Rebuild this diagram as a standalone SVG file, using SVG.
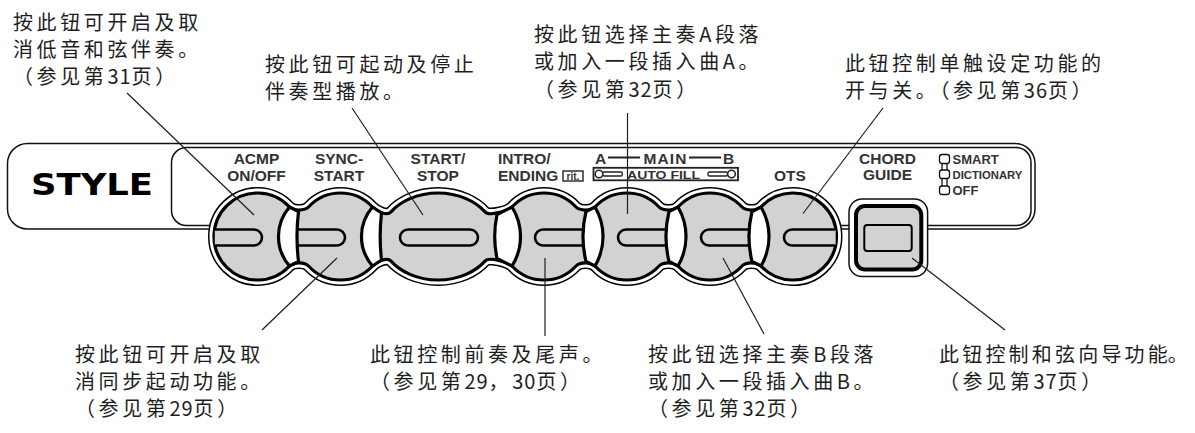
<svg xmlns="http://www.w3.org/2000/svg" xmlns:xlink="http://www.w3.org/1999/xlink" width="1195" height="433" viewBox="0 0 1195 433">
<style>
.cn{font-family:"Noto Sans CJK SC","Noto Sans CJK JP",sans-serif;font-size:20px;letter-spacing:3.6px;fill:#1e1e1e}
.d{letter-spacing:1px}
.bl{font-family:"Liberation Sans",Arial,sans-serif;font-weight:bold;font-size:15.5px;fill:#333;text-anchor:middle}
.lg{font-family:"Liberation Sans",Arial,sans-serif;font-weight:bold;fill:#333}
.lead{stroke:#1e1e1e;stroke-width:1.2;fill:none}
.panel{fill:none;stroke:#111;stroke-width:1.5}
.cres{fill:#fff;stroke:#000;stroke-width:3.2;stroke-linejoin:round}
.slot{fill:#d1d2d4;stroke:#000;stroke-width:2.6;stroke-linejoin:round}
.thin{fill:none;stroke:#111;stroke-width:1.3}
</style>
<defs>
<path id="chainPath" d="M 289.26 206.28 C 293.36 210.66 304.64 210.66 308.74 206.28 A 43.5 43.5 0 0 1 372.26 206.28 C 376.36 210.66 387 215.9 391 211.4 A 57 43.5 0 0 1 485 211.4 C 489 215.9 508.14 210.66 512.24 206.28 A 43.5 43.5 0 0 1 575.76 206.28 C 579.86 210.66 591.14 210.66 595.24 206.28 A 43.5 43.5 0 0 1 658.76 206.28 C 662.86 210.66 674.14 210.66 678.24 206.28 A 43.5 43.5 0 0 1 741.76 206.28 C 745.86 210.66 757.14 210.66 761.24 206.28 A 43.5 43.5 0 1 1 761.24 265.72 C 757.14 261.34 745.86 261.34 741.76 265.72 A 43.5 43.5 0 0 1 678.24 265.72 C 674.14 261.34 662.86 261.34 658.76 265.72 A 43.5 43.5 0 0 1 595.24 265.72 C 591.14 261.34 579.86 261.34 575.76 265.72 A 43.5 43.5 0 0 1 512.24 265.72 C 508.14 261.34 489 256.1 485 260.6 A 57 43.5 0 0 1 391 260.6 C 387 256.1 376.36 261.34 372.26 265.72 A 43.5 43.5 0 0 1 308.74 265.72 C 304.64 261.34 293.36 261.34 289.26 265.72 A 43.5 43.5 0 1 1 289.26 206.28 Z"/>
</defs>
<rect width="1195" height="433" fill="#fff"/>

<g id="panel">
<rect class="panel" x="7.5" y="143.5" width="1027.5" height="85.5" rx="20"/>
<rect class="panel" x="171.5" y="147.5" width="859.5" height="78" rx="15"/>
<text x="31" y="195" font-family="DejaVu Sans,sans-serif" font-weight="bold" font-size="29.5" textLength="122" lengthAdjust="spacingAndGlyphs" fill="#000">STYLE</text>
</g>

<g id="button-chain" transform="translate(0,0.5)">
<use xlink:href="#chainPath" href="#chainPath" fill="none" stroke="#000" stroke-width="12" stroke-linejoin="round"/>
<use xlink:href="#chainPath" href="#chainPath" fill="none" stroke="#fff" stroke-width="9" stroke-linejoin="round"/>
<use xlink:href="#chainPath" href="#chainPath" fill="#d1d2d4" stroke="#000" stroke-width="3.2" stroke-linejoin="round"/>
<g id="slots">
<path class="slot" d="M 214.8 229 H 254 A 8 8 0 0 1 254 245 H 214.8"/>
<path class="slot" d="M 297.8 229 H 337 A 8 8 0 0 1 337 245 H 297.8"/>
<rect class="slot" x="400" y="229" width="78" height="16" rx="8"/>
<path class="slot" d="M 586.7 229 H 543 A 8 8 0 0 0 543 245 H 586.7"/>
<path class="slot" d="M 669.7 229 H 626 A 8 8 0 0 0 626 245 H 669.7"/>
<path class="slot" d="M 752.7 229 H 709 A 8 8 0 0 0 709 245 H 752.7"/>
<path class="slot" d="M 835.7 229 H 792 A 8 8 0 0 0 792 245 H 835.7"/>
</g>
<g id="gaps">
<path class="cres" d="M 289.5 206.5 A 45 45 0 0 0 289.5 265.5 L 298.5 261 A 209 209 0 0 1 298.5 211 Z"/>
<path class="cres" d="M 372.5 206.5 A 45 45 0 0 0 372.5 265.5 L 381.5 259.5 A 209 209 0 0 1 381.5 212.5 Z"/>
<path class="cres" d="M 512 206.5 A 55.4 55.4 0 0 1 512 265.5 L 497 258 A 107 107 0 0 1 497 214 Z"/>
<path class="cres" d="M 595 206.5 A 58.4 58.4 0 0 1 595 265.5 L 586 261 A 105.7 105.7 0 0 1 586 211 Z"/>
<path class="cres" d="M 678 206.5 A 58.4 58.4 0 0 1 678 265.5 L 669 261 A 105.7 105.7 0 0 1 669 211 Z"/>
<path class="cres" d="M 761 206.5 A 58.4 58.4 0 0 1 761 265.5 L 752 261 A 105.7 105.7 0 0 1 752 211 Z"/>
</g>
</g>

<g id="btn-acmp"><text class="bl" x="256.5" y="164">ACMP</text><text class="bl" x="256.5" y="181">ON/OFF</text></g>
<g id="btn-sync"><text class="bl" x="339" y="164">SYNC-</text><text class="bl" x="339" y="181">START</text></g>
<g id="btn-start"><text class="bl" x="438" y="164">START/</text><text class="bl" x="438" y="181">STOP</text></g>
<g id="btn-intro">
<text class="lg" x="498" y="164" font-size="15.5">INTRO/</text>
<text class="lg" x="498" y="180.5" font-size="15.5">ENDING</text>
<rect x="563" y="171" width="20" height="10" fill="#fff" stroke="#222" stroke-width="1.4"/>
<text class="lg" x="573" y="179.6" font-size="10" text-anchor="middle">rit.</text>
</g>
<g id="btn-main">
<text class="lg" x="595" y="164" font-size="15.5">A</text>
<text class="lg" x="665" y="164" font-size="15.5" text-anchor="middle" textLength="43">MAIN</text>
<text class="lg" x="723" y="164" font-size="15.5">B</text>
<line x1="608" y1="157.5" x2="640" y2="157.5" stroke="#222" stroke-width="2"/>
<line x1="689" y1="157.5" x2="721" y2="157.5" stroke="#222" stroke-width="2"/>
<rect x="593.5" y="167.8" width="144.5" height="12.5" fill="#fff" stroke="#222" stroke-width="1.8"/>
<circle cx="599" cy="174" r="3.8" fill="#fff" stroke="#222" stroke-width="1.5"/>
<rect x="602.8" y="172" width="19.5" height="4" rx="1.5" fill="#fff" stroke="#222" stroke-width="1.4"/>
<rect x="708" y="172" width="19.5" height="4" rx="1.5" fill="#fff" stroke="#222" stroke-width="1.4"/>
<circle cx="731.5" cy="174" r="3.8" fill="#fff" stroke="#222" stroke-width="1.5"/>
<text class="lg" x="627" y="178.6" font-size="11" textLength="73" lengthAdjust="spacingAndGlyphs">AUTO FILL</text>
</g>
<g id="btn-ots"><text class="bl" x="790" y="181">OTS</text></g>
<g id="btn-chord">
<text class="bl" x="887.5" y="164">CHORD</text>
<text class="bl" x="887.5" y="180">GUIDE</text>
<rect x="849" y="199" width="78.6" height="77.5" rx="13" fill="#fff" stroke="#111" stroke-width="1.5"/>
<rect x="856" y="206" width="65.3" height="63.5" rx="9" fill="#d1d2d4" stroke="#000" stroke-width="4"/>
<rect x="864.3" y="225" width="47.4" height="26" rx="3" fill="#d1d2d4" stroke="#000" stroke-width="2"/>
</g>
<g id="legend">
<rect class="thin" x="939.5" y="154.5" width="10" height="9" rx="2.5"/>
<rect class="thin" x="939.5" y="170" width="10" height="8.5" rx="2.5"/>
<rect class="thin" x="939.5" y="186" width="10" height="8.5" rx="2.5"/>
<path class="thin" d="M 942 163.5 V 170 M 947 163.5 V 170 M 942 178.5 V 186 M 947 178.5 V 186"/>
<text class="lg" x="952.5" y="164" font-size="13">SMART</text>
<text class="lg" x="952.5" y="179.3" font-size="11.3">DICTIONARY</text>
<text class="lg" x="952.5" y="195" font-size="13">OFF</text>
</g>

<g id="connectors">
<line class="lead" x1="127" y1="93" x2="254" y2="215"/>
<line class="lead" x1="352" y1="108" x2="423" y2="215"/>
<line class="lead" x1="627.5" y1="113" x2="627.5" y2="214"/>
<line class="lead" x1="883" y1="108" x2="803" y2="213.5"/>
<line class="lead" x1="337" y1="258" x2="262" y2="330"/>
<line class="lead" x1="545" y1="258" x2="545" y2="336"/>
<line class="lead" x1="723" y1="258" x2="764" y2="334"/>
<line class="lead" x1="912" y1="258" x2="1005" y2="330"/>
</g>

<g id="label-acmp">
<text class="cn" x="13" y="30">按此钮可开启及取</text>
<text class="cn" x="13" y="56.5">消低音和弦伴奏。</text>
<text class="cn" x="13" y="83.5">（参见第<tspan class="d">31</tspan>页）</text>
</g>
<g id="label-start">
<text class="cn" x="265" y="71.5">按此钮可起动及停止</text>
<text class="cn" x="265" y="98.5">伴奏型播放。</text>
</g>
<g id="label-main-a">
<text class="cn" x="534" y="42">按此钮选择主奏A段落</text>
<text class="cn" x="534" y="69">或加入一段插入曲A。</text>
<text class="cn" x="534" y="96.5">（参见第<tspan class="d">32</tspan>页）</text>
</g>
<g id="label-ots">
<text class="cn" x="845" y="70.5">此钮控制单触设定功能的</text>
<text class="cn" x="845" y="98">开与关。（参见第<tspan class="d">36</tspan>页）</text>
</g>
<g id="label-sync">
<text class="cn" x="75" y="362">按此钮可开启及取</text>
<text class="cn" x="75" y="389">消同步起动功能。</text>
<text class="cn" x="75" y="416">（参见第<tspan class="d">29</tspan>页）</text>
</g>
<g id="label-intro">
<text class="cn" x="370" y="362">此钮控制前奏及尾声。</text>
<text class="cn" x="370" y="389">（参见第<tspan class="d">29</tspan>，<tspan class="d">30</tspan>页）</text>
</g>
<g id="label-main-b">
<text class="cn" x="648" y="362">按此钮选择主奏B段落</text>
<text class="cn" x="648" y="389">或加入一段插入曲B。</text>
<text class="cn" x="648" y="416">（参见第<tspan class="d">32</tspan>页）</text>
</g>
<g id="label-chord">
<text class="cn" x="939" y="362" style="letter-spacing:3.2px">此钮控制和弦向导功<tspan style="letter-spacing:0">能。</tspan></text>
<text class="cn" x="939" y="389">（参见第<tspan class="d">37</tspan>页）</text>
</g>
</svg>
